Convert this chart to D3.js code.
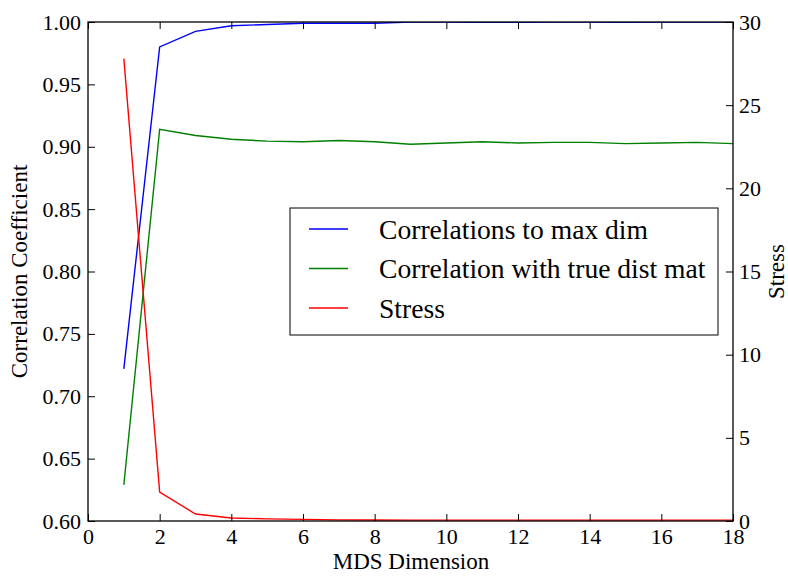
<!DOCTYPE html>
<html>
<head>
<meta charset="utf-8">
<script src="https://cdn.jsdelivr.net/npm/d3@7"></script>
<style>
  body { margin: 0; background: #fff; }
</style>
</head>
<body>
<script>
// data
const dims = [1, 2, 3, 4, 5, 6, 7, 8, 9, 10, 11, 12, 13, 14, 15, 16, 17, 18];
const corrMaxDim = [0.722, 0.980, 0.9925, 0.997, 0.998, 0.999, 0.999, 0.999, 1.0, 1.0, 0.9998, 0.9998, 0.9999, 0.9999, 0.9998, 0.9999, 0.9999, 1.0];
const corrTrue = [0.629, 0.914, 0.909, 0.906, 0.9045, 0.904, 0.905, 0.904, 0.902, 0.903, 0.904, 0.903, 0.9035, 0.9035, 0.9025, 0.903, 0.9035, 0.9025];
const stress = [27.8, 1.74, 0.42, 0.18, 0.13, 0.1, 0.07, 0.06, 0.05, 0.05, 0.05, 0.05, 0.05, 0.05, 0.05, 0.05, 0.05, 0.05];
const xTicks = [0, 2, 4, 6, 8, 10, 12, 14, 16, 18];
const leftTicks = [0.60, 0.65, 0.70, 0.75, 0.80, 0.85, 0.90, 0.95, 1.00];
const rightTicks = [0, 5, 10, 15, 20, 25, 30];
const legendNames = ["Correlations to max dim", "Correlation with true dist mat", "Stress"];
const legendColors = ["#0000ff", "#008000", "#ff0000"];

const FONT = "'Liberation Serif', 'Times New Roman', 'DejaVu Serif', serif";
const W = 788, H = 576;
const L = 88, R = 733, T = 22, B = 521;

const svg = d3.select("body").append("svg")
    .attr("width", W).attr("height", H)
    .style("font-family", FONT);

const x = d3.scaleLinear().domain([0, 18]).range([L, R]);
const yL = d3.scaleLinear().domain([0.6, 1.0]).range([B, T]);
const yR = d3.scaleLinear().domain([0, 30]).range([B, T]);

// lines
svg.append("clipPath").attr("id", "clip")
    .append("rect").attr("x", L).attr("y", T).attr("width", R - L).attr("height", B - T);

const plot = svg.append("g").attr("clip-path", "url(#clip)");

function drawLine(vals, scale, color) {
    const line = d3.line()
        .x(function (d, i) { return x(dims[i]); })
        .y(function (d) { return scale(d); });
    plot.append("path")
        .datum(vals)
        .attr("d", line)
        .attr("fill", "none")
        .attr("stroke", color)
        .attr("stroke-width", 1.4);
}
drawLine(corrMaxDim, yL, legendColors[0]);
drawLine(corrTrue, yL, legendColors[1]);
drawLine(stress, yR, legendColors[2]);

// axes, ticks pointing inward
const tickSize = 7;

const gx = svg.append("g").attr("transform", "translate(0," + B + ")")
    .call(d3.axisBottom(x).tickValues(xTicks).tickSizeInner(-tickSize).tickSizeOuter(0));
const gxTop = svg.append("g").attr("transform", "translate(0," + T + ")")
    .call(d3.axisTop(x).tickValues(xTicks).tickSizeInner(-tickSize).tickSizeOuter(0).tickFormat(""));
const gyL = svg.append("g").attr("transform", "translate(" + L + ",0)")
    .call(d3.axisLeft(yL).tickValues(leftTicks).tickFormat(d3.format(".2f")).tickSizeInner(-tickSize).tickSizeOuter(0).tickPadding(7));
const gyR = svg.append("g").attr("transform", "translate(" + R + ",0)")
    .call(d3.axisRight(yR).tickValues(rightTicks).tickSizeInner(-tickSize).tickSizeOuter(0).tickPadding(6));

[gx, gxTop, gyL, gyR].forEach(function (g) {
    g.attr("font-family", null).attr("font-size", null);
    g.select(".domain").remove();
    g.selectAll("line").attr("stroke", "#000").attr("stroke-width", 1);
    g.selectAll("text").style("font-size", "22px").style("font-family", FONT).attr("fill", "#000");
});
gx.selectAll("text").attr("y", 23).attr("dy", 0);

// frame
svg.append("rect")
    .attr("x", L).attr("y", T).attr("width", R - L).attr("height", B - T)
    .attr("fill", "none").attr("stroke", "#000").attr("stroke-width", 1.3);

// axis labels
svg.append("text")
    .attr("x", (L + R) / 2 + 0.5).attr("y", 569)
    .attr("text-anchor", "middle")
    .style("font-size", "23px")
    .text("MDS Dimension");
svg.append("text")
    .attr("transform", "translate(27," + ((T + B) / 2) + ") rotate(-90)")
    .attr("text-anchor", "middle")
    .style("font-size", "23px")
    .text("Correlation Coefficient");
svg.append("text")
    .attr("transform", "translate(784," + ((T + B) / 2) + ") rotate(-90)")
    .attr("text-anchor", "middle")
    .style("font-size", "23px")
    .text("Stress");

// legend
const legend = svg.append("g").attr("transform", "translate(290,208)");
legend.append("rect")
    .attr("width", 428).attr("height", 127)
    .attr("fill", "#fff").attr("stroke", "#000").attr("stroke-width", 1);
legendNames.forEach(function (name, i) {
    const cy = 21 + i * 39.5;
    legend.append("line")
        .attr("x1", 19).attr("x2", 58).attr("y1", cy).attr("y2", cy)
        .attr("stroke", legendColors[i]).attr("stroke-width", 1.4);
    legend.append("text")
        .attr("x", 89).attr("y", cy).attr("dy", "0.35em")
        .style("font-size", "27.6px")
        .text(name);
});
</script>
</body>
</html>
